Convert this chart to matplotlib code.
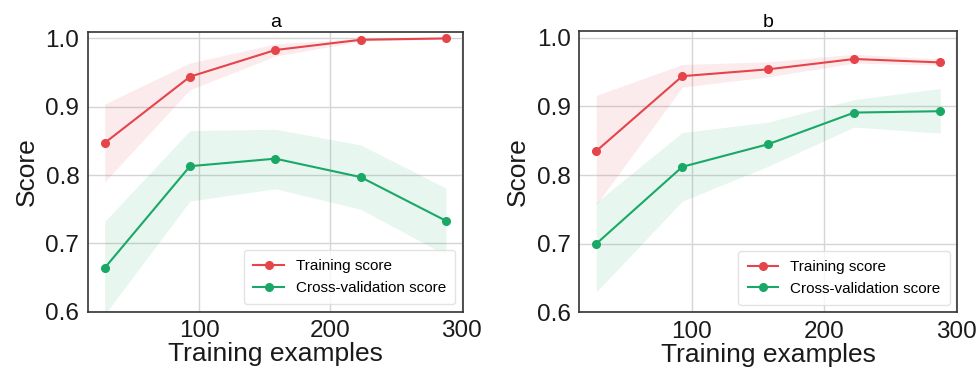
import matplotlib.pyplot as plt

plt.rcParams['font.family'] = ['Liberation Sans', 'DejaVu Sans']

train_sizes = [28, 93, 158, 223, 288]

# panel a
train_a = [0.847, 0.944, 0.983, 0.998, 1.000]
train_a_lo = [0.790, 0.925, 0.974, 0.996, 0.999]
train_a_hi = [0.904, 0.964, 0.992, 1.000, 1.001]
cv_a = [0.664, 0.813, 0.824, 0.797, 0.733]
cv_a_lo = [0.596, 0.762, 0.780, 0.750, 0.683]
cv_a_hi = [0.732, 0.865, 0.867, 0.844, 0.781]

# panel b
train_b = [0.835, 0.944, 0.954, 0.969, 0.964]
train_b_lo = [0.757, 0.928, 0.943, 0.963, 0.960]
train_b_hi = [0.916, 0.961, 0.965, 0.976, 0.969]
cv_b = [0.700, 0.812, 0.845, 0.891, 0.893]
cv_b_lo = [0.630, 0.762, 0.813, 0.870, 0.861]
cv_b_hi = [0.760, 0.862, 0.877, 0.910, 0.926]

red = '#e5444a'
green = '#1aa866'

fig = plt.figure(figsize=(9.79, 3.76), dpi=100)
axes = [fig.add_axes([0.0895, 0.171, 0.3835, 0.745]),
        fig.add_axes([0.5915, 0.169, 0.3865, 0.749])]
panels = [('a', train_a, train_a_lo, train_a_hi, cv_a, cv_a_lo, cv_a_hi),
          ('b', train_b, train_b_lo, train_b_hi, cv_b, cv_b_lo, cv_b_hi)]

for ax, (title, tr, trlo, trhi, cv, cvlo, cvhi) in zip(axes, panels):
    ax.grid(True, color='#d5d5d5', linewidth=1)
    ax.set_axisbelow(True)
    ax.fill_between(train_sizes, trlo, trhi, color=red, alpha=0.1, linewidth=0)
    ax.fill_between(train_sizes, cvlo, cvhi, color=green, alpha=0.1, linewidth=0)
    ax.plot(train_sizes, tr, 'o-', color=red, markersize=5.5, linewidth=1.5, label='Training score')
    ax.plot(train_sizes, cv, 'o-', color=green, markersize=5.5, linewidth=1.5, label='Cross-validation score')
    ax.set_ylim(0.6, 1.01)
    ax.set_xlim(15, 301)
    ax.set_xticks([100, 200, 300])
    ax.set_yticks([0.6, 0.7, 0.8, 0.9, 1.0])
    ax.tick_params(labelsize=17.5, length=0, pad=6, colors='#1a1a1a')
    ax.set_title(title, fontsize=14, pad=3)
    ax.set_xlabel('Training examples', fontsize=19, labelpad=0, color='#1a1a1a')
    ax.set_ylabel('Score', fontsize=19, labelpad=5, color='#1a1a1a')
    for s in ax.spines.values():
        s.set_color('#333333')
        s.set_linewidth(1.2)
    leg = ax.legend(loc='lower right', fontsize=11, frameon=True, borderpad=0.6)
    leg.get_frame().set_edgecolor('#dddddd')

fig.savefig('out.png', dpi=100)
